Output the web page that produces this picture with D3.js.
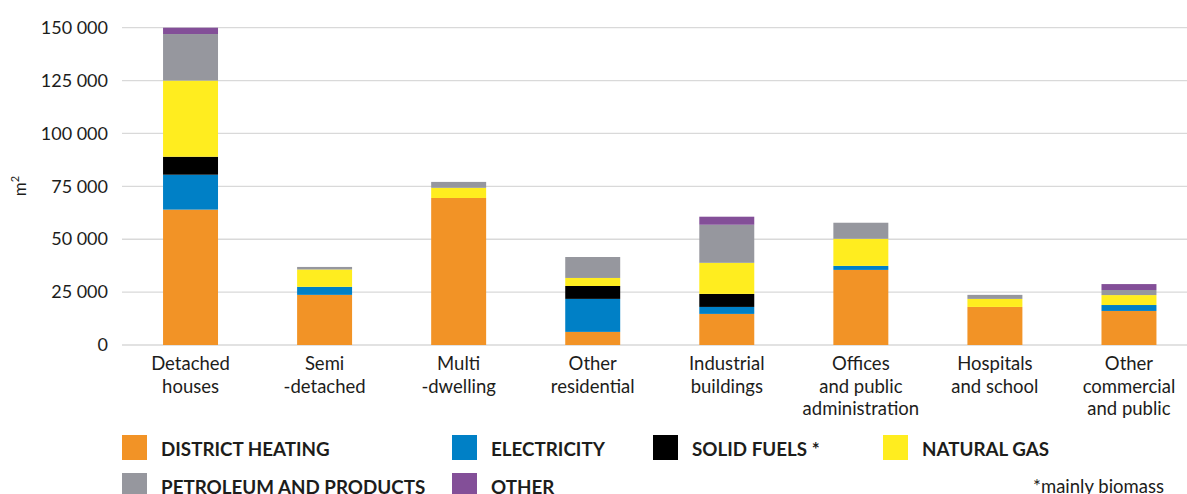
<!DOCTYPE html>
<html>
<head>
<meta charset="utf-8">
<script src="https://cdn.jsdelivr.net/npm/d3@7"></script>
<style>
  html, body { margin: 0; padding: 0; background: #fff; }
  svg { display: block; font-family: Lato, "Open Sans", sans-serif; }
</style>
</head>
<body>
<svg id="chart" width="1187" height="494"></svg>
<script>
// Building categories (each label split over lines)
const categories = [
  ["Detached", "houses"],
  ["Semi", "-detached"],
  ["Multi", "-dwelling"],
  ["Other", "residential"],
  ["Industrial", "buildings"],
  ["Offices", "and public", "administration"],
  ["Hospitals", "and school"],
  ["Other", "commercial", "and public"]
];

// Floor area (m²) heated by each energy carrier
const districtHeating = [64000, 23700, 69500, 6200, 14700, 35500, 18000, 16100];
const electricity     = [16500, 3800, 0, 15600, 3300, 1900, 0, 2800];
const solidFuels      = [8500, 0, 0, 6100, 6150, 0, 0, 0];
const naturalGas      = [36000, 8200, 4800, 3800, 14700, 12800, 3800, 4700];
const petroleum       = [22000, 1200, 2800, 9900, 18000, 7600, 1900, 2400];
const other           = [3000, 0, 0, 0, 3800, 0, 0, 2800];

const seriesNames = ["DISTRICT HEATING", "ELECTRICITY", "SOLID FUELS *", "NATURAL GAS",
                     "PETROLEUM AND PRODUCTS", "OTHER"];
const seriesValues = [districtHeating, electricity, solidFuels, naturalGas, petroleum, other];
const seriesColors = ["#F29326", "#0080C6", "#000000", "#FFED1F", "#96979E", "#834F98"];

const yTicks = [0, 25000, 50000, 75000, 100000, 125000, 150000];

const svg = d3.select("#chart");
const textColor = "#1d1d1b";

// Rows for stacking
const keys = seriesNames;
const rows = categories.map((c, i) => {
  const r = { idx: i };
  keys.forEach((k, j) => { r[k] = seriesValues[j][i]; });
  return r;
});
const stacked = d3.stack().keys(keys)(rows);

const x = d3.scaleBand()
  .domain(d3.range(categories.length))
  .range([123.5, 1196])
  .paddingInner(0.59)
  .paddingOuter(0.295);

const y = d3.scaleLinear().domain([0, 150000]).range([345, 27.7]);

const fmt = v => d3.format(",")(v).replace(/,/g, " ");

// Gridlines
svg.append("g")
  .selectAll("line")
  .data(yTicks)
  .join("line")
  .attr("x1", 122).attr("x2", 1196)
  .attr("y1", d => y(d)).attr("y2", d => y(d))
  .attr("stroke", "#d9d9d9")
  .attr("stroke-width", 1.3);

// Y axis tick labels
const yAxis = svg.append("g")
  .attr("transform", "translate(108,0)")
  .call(d3.axisLeft(y).tickValues(yTicks).tickFormat(fmt).tickSize(0).tickPadding(0));
yAxis.select(".domain").remove();
yAxis.selectAll("text")
  .attr("font-family", "Lato, sans-serif")
  .attr("font-size", 18)
  .attr("fill", textColor);

// Y axis title
const yTitle = svg.append("text")
  .attr("transform", "translate(26,186) rotate(-90)")
  .attr("text-anchor", "middle")
  .attr("font-size", 17)
  .attr("fill", textColor);
yTitle.append("tspan").text("m");
yTitle.append("tspan").attr("font-size", 11).attr("dy", -7).text("2");

// Stacked bars
svg.append("g")
  .selectAll("g")
  .data(stacked)
  .join("g")
  .attr("fill", (d, i) => seriesColors[i])
  .selectAll("rect")
  .data(d => d)
  .join("rect")
  .attr("x", d => x(d.data.idx))
  .attr("width", x.bandwidth())
  .attr("y", d => y(d[1]))
  .attr("height", d => y(d[0]) - y(d[1]));

// Category labels
const xl = svg.append("g")
  .selectAll("text")
  .data(categories)
  .join("text")
  .attr("text-anchor", "middle")
  .attr("font-size", 18.5)
  .attr("fill", textColor)
  .attr("transform", (d, i) => `translate(${x(i) + x.bandwidth() / 2},370)`);
xl.selectAll("tspan")
  .data(d => d)
  .join("tspan")
  .attr("x", 0)
  .attr("y", (d, i) => i * 22.5)
  .text(d => d);

// Legend
const legendPos = [
  [122, 435], [452, 435], [653, 435], [883, 435],
  [122, 473], [452, 473]
];
const lg = svg.append("g")
  .selectAll("g")
  .data(seriesNames)
  .join("g")
  .attr("transform", (d, i) => `translate(${legendPos[i][0]},${legendPos[i][1]})`);
lg.append("rect")
  .attr("width", 25).attr("height", 25)
  .attr("fill", (d, i) => seriesColors[i]);
lg.append("text")
  .attr("x", 39).attr("y", 20.5)
  .attr("font-size", 18.8)
  .attr("font-weight", 700)
  .attr("fill", textColor)
  .text(d => d);

svg.append("text")
  .attr("x", 1164).attr("y", 493)
  .attr("text-anchor", "end")
  .attr("font-size", 18.5)
  .attr("fill", textColor)
  .text("*mainly biomass");
</script>
</body>
</html>
